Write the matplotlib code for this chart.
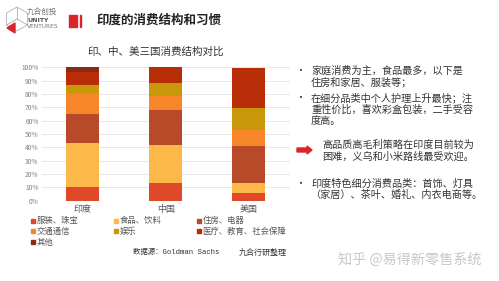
import matplotlib
matplotlib.use("Agg")
import matplotlib.pyplot as plt
from matplotlib.patches import Rectangle, Polygon, FancyArrow
import numpy as np

plt.rcParams['font.family'] = ['Noto Sans CJK SC', 'DejaVu Sans']

# ---- data ----
countries = ["印度", "中国", "美国"]
categories = ["服装、珠宝", "食品、饮料", "住房、电器", "交通通信", "娱乐", "医疗、教育、社会保障", "其他"]
india = [10.0, 33.3, 21.4, 16.2, 6.2, 9.4, 3.5]
china = [13.4, 28.1, 26.6, 10.7, 9.2, 12.0, 0.0]
usa = [5.5, 8.0, 27.6, 11.7, 16.7, 30.1, 0.0]
colors = ["#e0482a", "#fdb84a", "#b84a2a", "#f7862a", "#c8980a", "#b82c08", "#8a2a14"]
yticks = [0, 10, 20, 30, 40, 50, 60, 70, 80, 90, 100]

title = "印度的消费结构和习惯"
chart_title = "印、中、美三国消费结构对比"
bullets = [
    ("•", ["家庭消费为主，食品最多，以下是", "住房和家居、服装等；"]),
    ("•", ["在细分品类中个人护理上升最快；注", "重性价比，喜欢彩盒包装，二手受容", "度高。"]),
    ("arrow", ["高品质高毛利策略在印度目前较为", "困难，义乌和小米路线最受欢迎。"]),
    ("•", ["印度特色细分消费品类：首饰、灯具", "（家居）、茶叶、婚礼、内衣电商等。"]),
]

W, H = 499, 281
fig = plt.figure(figsize=(W / 100, H / 100), dpi=100)
fig.patch.set_facecolor("white")


def fx(x):
    return x / W


def fy(y):
    return 1 - y / H


# ---- chart ----
ax = fig.add_axes([fx(41.5), fy(200.7), fx(290) - fx(41.5), fy(67.3) - fy(200.7)])
data = np.array([india, china, usa])
x = np.arange(len(countries))
bottom = np.zeros(len(countries))
for j, cat in enumerate(categories):
    vals = data[:, j]
    ax.bar(x, vals, bottom=bottom, width=0.4, color=colors[j], zorder=3, linewidth=0)
    bottom += vals
ax.set_xlim(-0.5, 2.5)
ax.set_ylim(0, 100)
ax.set_yticks(yticks)
ax.set_yticklabels([f"{t}%" for t in yticks], fontsize=4.8, color="#808080")
ax.set_xticks(x)
ax.set_xticklabels(countries, fontsize=6.5, color="#555555")
ax.tick_params(length=0, pad=2)
ax.tick_params(axis="x", pad=3)
ax.grid(axis="y", color="#e4e4e4", linewidth=0.6, zorder=0)
for s in ax.spines.values():
    s.set_visible(False)
ax.set_facecolor("none")

fig.text(fx(156), fy(52), chart_title, fontsize=7.6, color="#333333", ha="center", va="center")

# ---- legend (manual, row-major) ----
leg_x = [32, 115, 198]
leg_y = [220.7, 231.3, 242.0]
for i, (cat, col) in enumerate(zip(categories, colors)):
    r, c = divmod(i, 3)
    fig.patches.append(Rectangle((fx(leg_x[c] - 1.5), fy(leg_y[r] + 2)), fx(4), fy(0) - fy(4),
                                 transform=fig.transFigure, color=col, figure=fig))
    fig.text(fx(leg_x[c] + 4.5), fy(leg_y[r]), cat, fontsize=6, color="#555555", va="center", ha="left")

fig.text(fx(133), fy(252.7), "数据源：Goldman Sachs", fontsize=5.3, color="#333333",
         va="center", ha="left", family=["Liberation Mono", "Noto Sans CJK SC"])
fig.text(fx(239), fy(252.7), "九合行研整理", fontsize=5.8, color="#333333", va="center", ha="left")

# ---- header ----
fig.patches.append(Rectangle((fx(69), fy(26.5)), fx(8), fy(0) - fy(12), transform=fig.transFigure,
                             color="#d9262a", figure=fig))
fig.patches.append(Rectangle((fx(79.5), fy(26.5)), fx(1.8), fy(0) - fy(12), transform=fig.transFigure,
                             color="#d9262a", figure=fig))
fig.text(fx(97), fy(20.5), title, fontsize=9, fontweight="bold", color="#222222", va="center", ha="left")

# logo
cx, cy, r = 17, 19, 12
hexpts = [(cx + r * np.cos(np.radians(a)), cy + r * np.sin(np.radians(a))) for a in range(30, 390, 60)]
fig.patches.append(Polygon([(fx(p[0]), fy(p[1])) for p in hexpts], closed=True, fill=False,
                           edgecolor="#b0b0b0", linewidth=0.6, transform=fig.transFigure, figure=fig))
for a in (90, 210, 330):
    px_ = cx + r * np.cos(np.radians(a))
    py_ = cy - r * np.sin(np.radians(a))
    fig.lines.append(plt.Line2D([fx(cx), fx(px_)], [fy(cy), fy(py_)], color="#b0b0b0", linewidth=0.6,
                                transform=fig.transFigure, figure=fig))
fig.patches.append(Polygon([(fx(7), fy(28)), (fx(15), fy(23)), (fx(15), fy(33))], closed=True,
                           color="#d9262a", transform=fig.transFigure, figure=fig))
fig.text(fx(27), fy(12), "九合创投", fontsize=5.5, color="#777777", va="center", ha="left")
fig.text(fx(27), fy(20), "UNITY", fontsize=4.5, fontweight="bold", color="#555555", va="center", ha="left",
         family=["DejaVu Sans"])
fig.text(fx(27), fy(27), "VENTURES", fontsize=4.2, color="#777777", va="center", ha="left",
         family=["DejaVu Sans"])

# ---- right bullets ----
line_starts = [71, 98.3, 145, 184]
lh = 11.3
for (kind, lines), y0 in zip(bullets, line_starts):
    if kind == "arrow":
        fig.patches.append(FancyArrow(fx(297), fy(y0 + 5), fx(10), 0, width=fy(0) - fy(4),
                                      head_width=fy(0) - fy(8), head_length=fx(5),
                                      length_includes_head=False, color="#d9262a",
                                      transform=fig.transFigure, figure=fig))
        tx = 322
    else:
        fig.text(fx(300), fy(y0), kind, fontsize=7, color="#333333", va="center", ha="center")
        tx = 311
    for k, ln in enumerate(lines):
        fig.text(fx(tx), fy(y0 + k * lh), ln, fontsize=7.3, color="#333333", va="center", ha="left")

# watermark
fig.text(fx(338), fy(260), "知乎 @易得新零售系统", fontsize=10.2, color="#c8c8c8", va="center", ha="left")

fig.savefig("out.png", dpi=100)
